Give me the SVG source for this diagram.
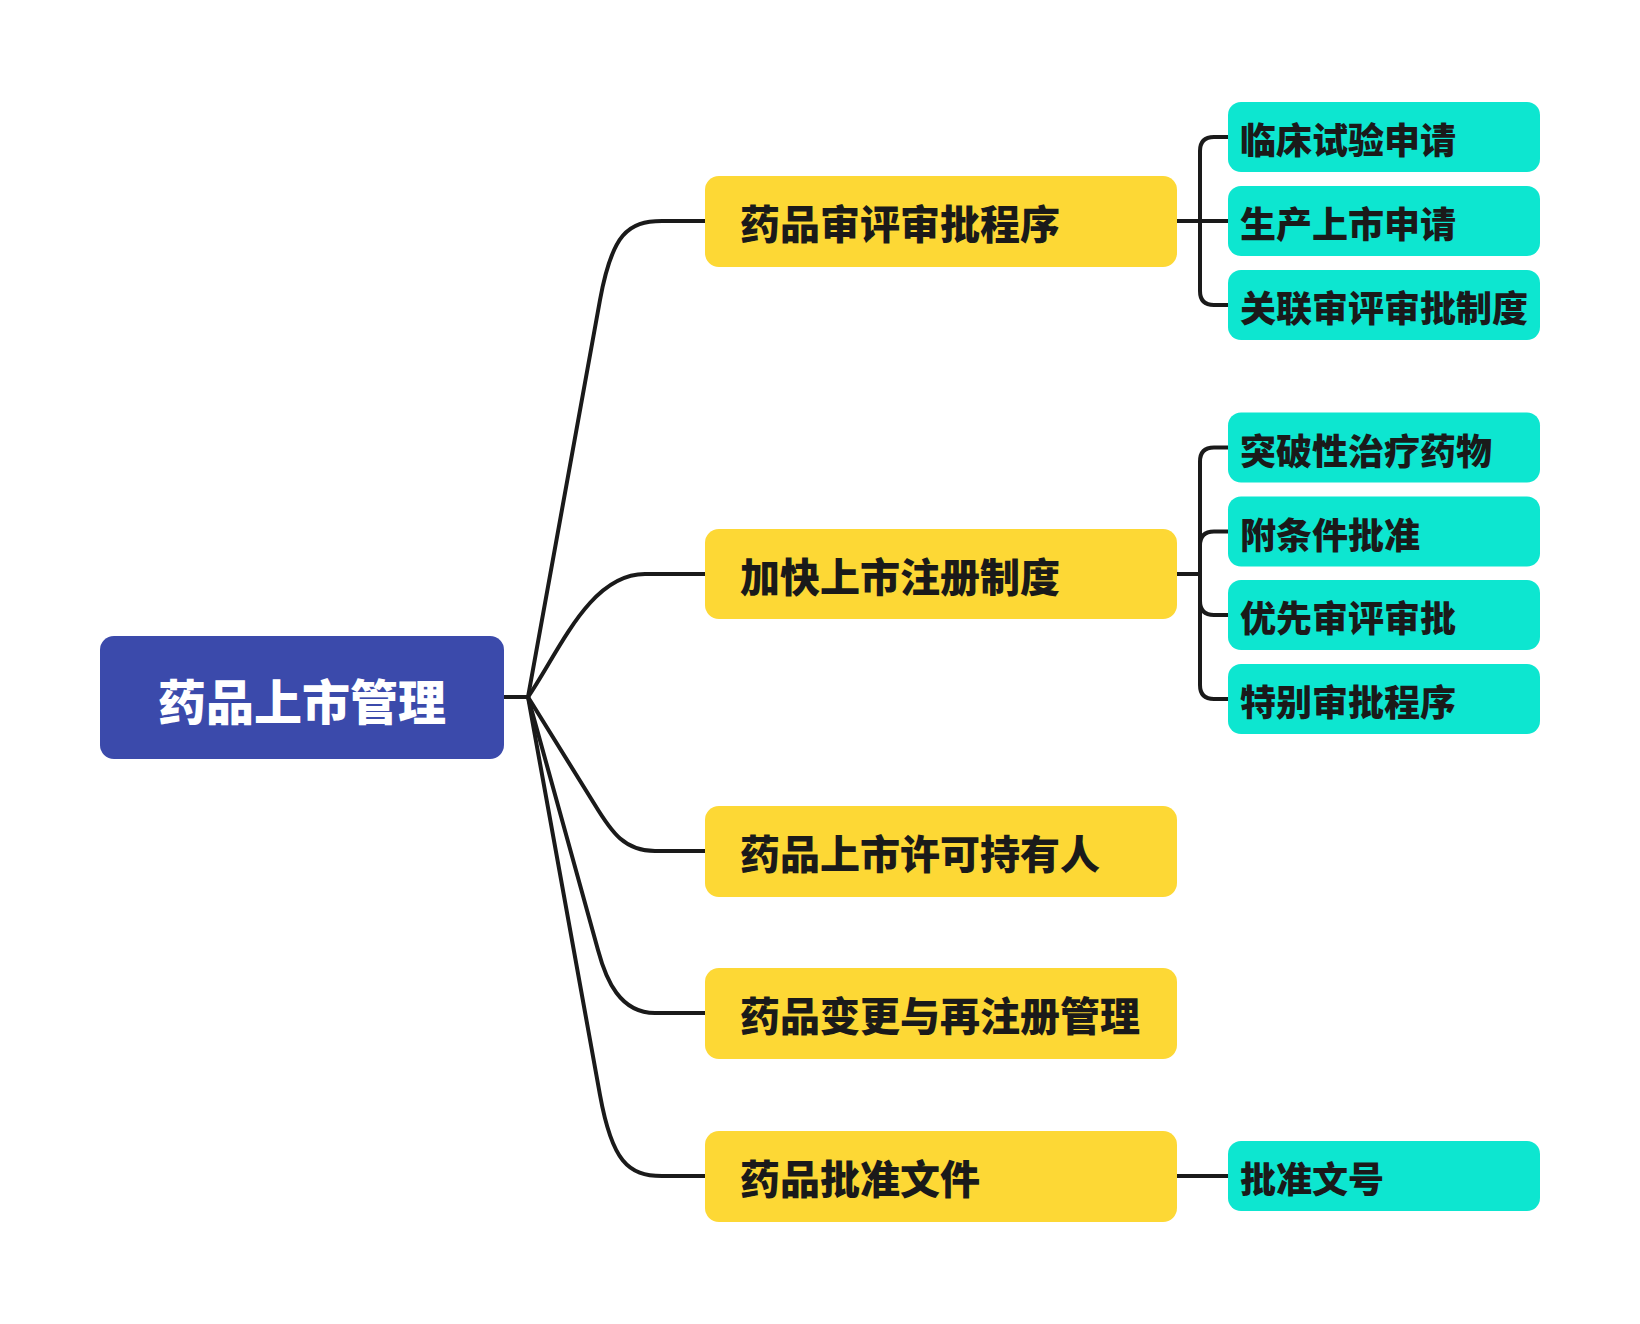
<svg xmlns="http://www.w3.org/2000/svg" width="1640" height="1324" viewBox="0 0 1640 1324">
<style>
.root{fill:#3B4AAB}
.main{fill:#FDD835}
.sub{fill:#0DE6D0}
.t{font-family:"Noto Sans CJK SC","Noto Sans",sans-serif;font-weight:900;dominant-baseline:central}
.rt{fill:#FFFFFF;font-size:48px}
.mt{fill:#1A1A1A;font-size:40px}
.st{fill:#1A1A1A;font-size:36px}
.c{fill:none;stroke:#1A1A1A;stroke-width:4;stroke-linecap:butt;stroke-linejoin:round}
</style>
<rect width="1640" height="1324" fill="#FFFFFF"/>
<g id="connectors">
<path class="c" d="M504,697 H528"/>
<path class="c" d="M528,697 L600,300 C612,234 628,221 662,221 H706"/>
<path class="c" d="M528,697 C560,650 590,574 645,574 H706"/>
<path class="c" d="M528,697 L595,805 C612,833 625,851 655,851 H706"/>
<path class="c" d="M528,697 L598,950 C606,980 620,1013 655,1013 H706"/>
<path class="c" d="M528,697 L600,1095 C612,1161 628,1176 662,1176 H706"/>
<path class="c" d="M1177,221 H1228"/>
<path class="c" d="M1200,221 V151 Q1200,137 1214,137 H1228"/>
<path class="c" d="M1200,221 V291 Q1200,305 1214,305 H1228"/>
<path class="c" d="M1177,574 H1200"/>
<path class="c" d="M1200,574 V461.5 Q1200,447.5 1214,447.5 H1228"/>
<path class="c" d="M1200,574 V545.5 Q1200,531.5 1214,531.5 H1228"/>
<path class="c" d="M1200,574 V601 Q1200,615 1214,615 H1228"/>
<path class="c" d="M1200,574 V685 Q1200,699 1214,699 H1228"/>
<path class="c" d="M1177,1176 H1228"/>
</g>
<g id="n-root"><rect class="root" x="100" y="636" width="404" height="123" rx="14"/><text class="t rt" x="302" y="699" text-anchor="middle">药品上市管理</text></g>
<g id="n-m1"><rect class="main" x="705" y="176" width="472" height="91" rx="14"/><text class="t mt" x="740" y="222">药品审评审批程序</text></g>
<g id="n-m2"><rect class="main" x="705" y="529" width="472" height="90" rx="14"/><text class="t mt" x="740" y="575">加快上市注册制度</text></g>
<g id="n-m3"><rect class="main" x="705" y="806" width="472" height="91" rx="14"/><text class="t mt" x="740" y="852">药品上市许可持有人</text></g>
<g id="n-m4"><rect class="main" x="705" y="968" width="472" height="91" rx="14"/><text class="t mt" x="740" y="1014">药品变更与再注册管理</text></g>
<g id="n-m5"><rect class="main" x="705" y="1131" width="472" height="91" rx="14"/><text class="t mt" x="740" y="1177">药品批准文件</text></g>
<g id="n-s1"><rect class="sub" x="1228" y="102" width="312" height="70" rx="13"/><text class="t st" x="1240" y="138">临床试验申请</text></g>
<g id="n-s2"><rect class="sub" x="1228" y="186" width="312" height="70" rx="13"/><text class="t st" x="1240" y="222">生产上市申请</text></g>
<g id="n-s3"><rect class="sub" x="1228" y="270" width="312" height="70" rx="13"/><text class="t st" x="1240" y="306">关联审评审批制度</text></g>
<g id="n-s4"><rect class="sub" x="1228" y="412.5" width="312" height="70" rx="13"/><text class="t st" x="1240" y="448.5">突破性治疗药物</text></g>
<g id="n-s5"><rect class="sub" x="1228" y="496.5" width="312" height="70" rx="13"/><text class="t st" x="1240" y="532.5">附条件批准</text></g>
<g id="n-s6"><rect class="sub" x="1228" y="580" width="312" height="70" rx="13"/><text class="t st" x="1240" y="616">优先审评审批</text></g>
<g id="n-s7"><rect class="sub" x="1228" y="664" width="312" height="70" rx="13"/><text class="t st" x="1240" y="700">特别审批程序</text></g>
<g id="n-s8"><rect class="sub" x="1228" y="1141" width="312" height="70" rx="13"/><text class="t st" x="1240" y="1177">批准文号</text></g>
</svg>
